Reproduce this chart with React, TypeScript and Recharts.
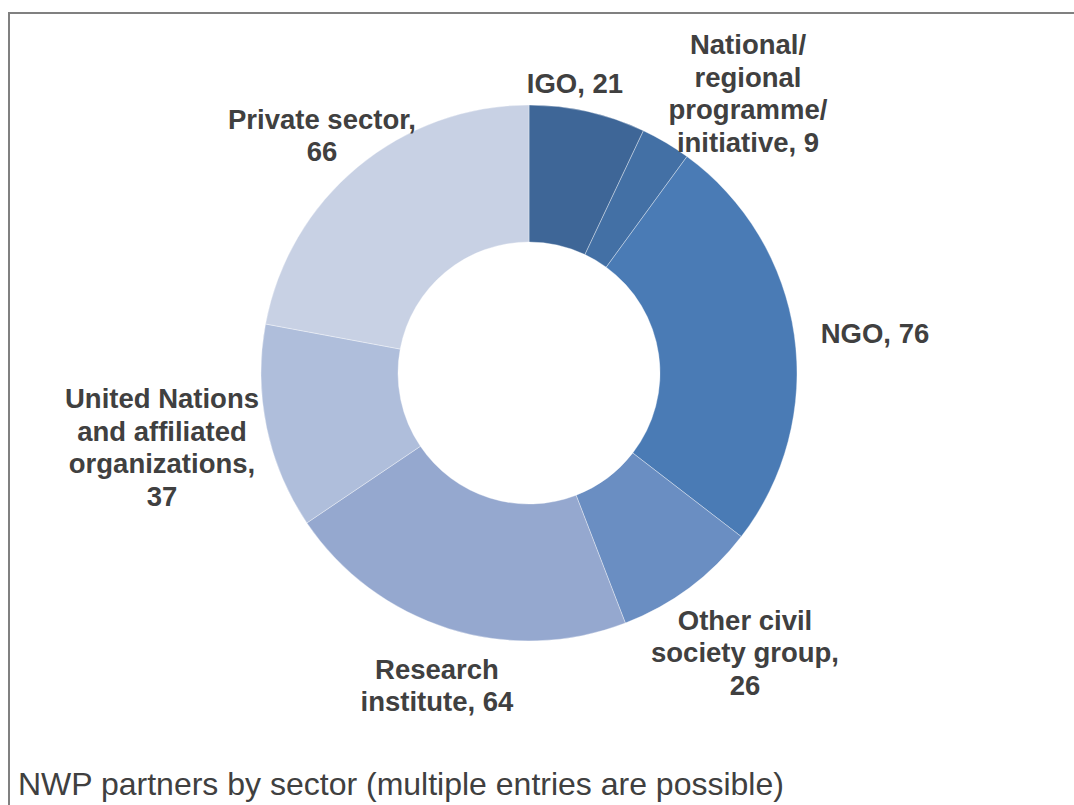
import * as React from "react"
import { PieChart, Pie, Cell } from "recharts"

// NWP partners by sector
const sectors = [
  "IGO",
  "National/ regional programme/ initiative",
  "NGO",
  "Other civil society group",
  "Research institute",
  "United Nations and affiliated organizations",
  "Private sector",
]
const counts = [21, 9, 76, 26, 64, 37, 66]
const colors = ["#3E6697", "#4370A5", "#4A7BB5", "#6A8EC2", "#95A8CF", "#AFBEDB", "#C8D1E4"]

// how each label wraps, as in the original
const labelLines = [
  ["IGO, 21"],
  ["National/", "regional", "programme/", "initiative, 9"],
  ["NGO, 76"],
  ["Other civil", "society group,", "26"],
  ["Research", "institute, 64"],
  ["United Nations", "and affiliated", "organizations,", "37"],
  ["Private sector,", "66"],
]
// label block centres relative to the donut centre
const labelOffsets = [
  [46, -290],
  [219, -280],
  [346, -40],
  [216, 279],
  [-92, 312],
  [-367, 74],
  [-207, -238],
]

const data = sectors.map((name, i) => ({ name, value: counts[i] }))

const W = 1074
const H = 805
const CX = 529
const CY = 373
const FONT = "'Liberation Sans', Arial, sans-serif"
const LINE_H = 32.5

const renderLabel = (props: any) => {
  const { index, cx, cy } = props
  const lines = labelLines[index]
  const [dx, dy] = labelOffsets[index]
  const top = cy + dy - ((lines.length - 1) * LINE_H) / 2
  return (
    <text
      key={"lbl" + index}
      x={cx + dx}
      y={top}
      textAnchor="middle"
      dominantBaseline="central"
      fill="#404040"
      fontFamily={FONT}
      fontWeight="bold"
      fontSize={27.5}
    >
      {lines.map((l, j) => (
        <tspan key={j} x={cx + dx} y={top + j * LINE_H}>
          {l}
        </tspan>
      ))}
    </text>
  )
}

export default function App() {
  return (
    <div style={{ position: "absolute", left: 0, top: 0, width: W, height: H, background: "#fff", overflow: "hidden" }}>
      <div
        style={{
          position: "absolute",
          left: 8,
          top: 12,
          width: W + 10,
          height: H + 10,
          borderLeft: "2px solid #808080",
          borderTop: "2px solid #808080",
        }}
      />
      <PieChart
        width={W}
        height={H}
        margin={{ top: 0, right: 0, bottom: 0, left: 0 }}
        style={{ position: "absolute", left: 0, top: 0 }}
      >
        <Pie
          data={data}
          dataKey="value"
          nameKey="name"
          cx={CX}
          cy={CY}
          innerRadius={131}
          outerRadius={268}
          startAngle={90}
          endAngle={-270}
          stroke="#ffffff"
          strokeWidth={0.6}
          strokeOpacity={0.6}
          label={renderLabel}
          labelLine={false}
          isAnimationActive={false}
        >
          {data.map((d, i) => (
            <Cell key={d.name} fill={colors[i]} />
          ))}
        </Pie>
      </PieChart>
      <div
        style={{
          position: "absolute",
          left: 18,
          top: 766,
          fontFamily: FONT,
          fontSize: 32,
          lineHeight: "36px",
          color: "#404040",
          whiteSpace: "nowrap",
        }}
      >
        NWP partners by sector (multiple entries are possible)
      </div>
    </div>
  )
}
